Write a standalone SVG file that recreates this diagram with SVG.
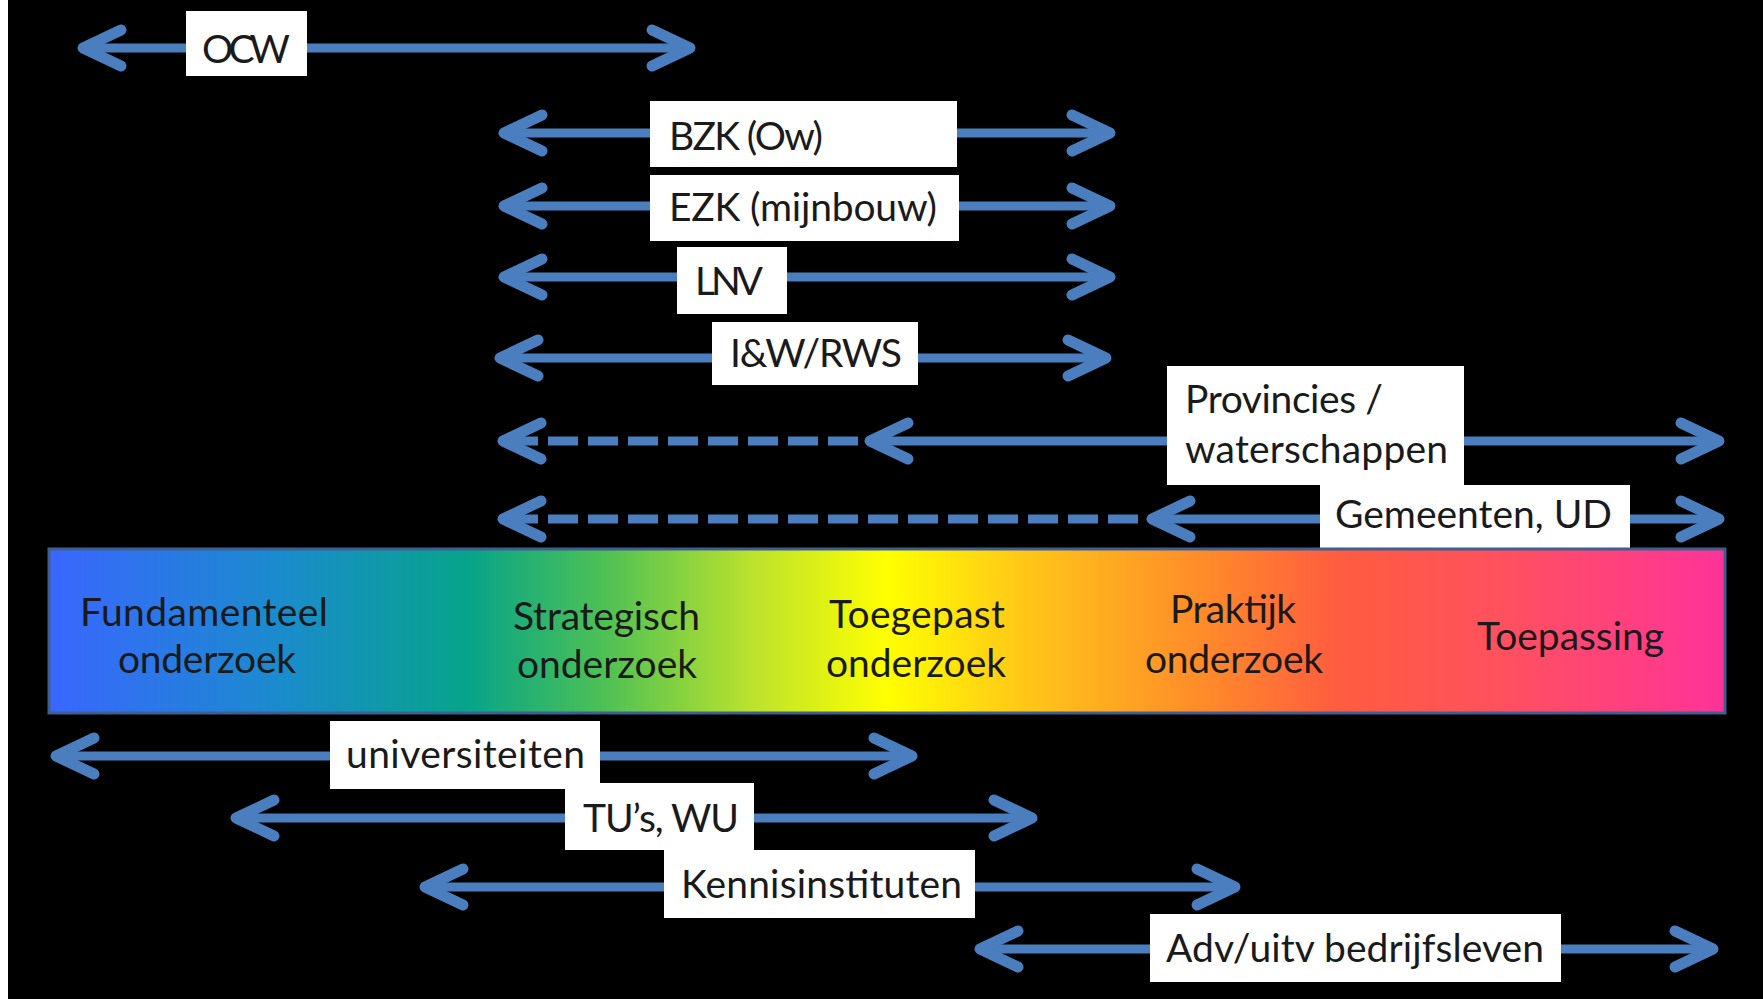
<svg xmlns="http://www.w3.org/2000/svg" width="1763" height="999" viewBox="0 0 1763 999">
<style>
.ln{stroke:#4a7ebe;stroke-width:9;fill:none}
.dash{stroke-dasharray:30 10;stroke-dashoffset:35}
.box{fill:#ffffff}
.t{font-family:Lato,"Liberation Sans",sans-serif;font-size:39px;fill:#1a1a1a}
</style>
<defs>
<marker id="ah" markerUnits="userSpaceOnUse" markerWidth="64" markerHeight="64" viewBox="-50 -32 64 64" refX="0" refY="0" orient="auto-start-reverse">
<path d="M -38 -18 L 0 0 L -38 18" fill="none" stroke="#4a7ebe" stroke-width="11" stroke-linejoin="round" stroke-linecap="round" stroke-dasharray="none"/>
</marker>
<linearGradient id="spec" x1="0" y1="0" x2="1" y2="0">
<stop offset="0" stop-color="#3a66ff"/>
<stop offset="0.14" stop-color="#1a8ccc"/>
<stop offset="0.25" stop-color="#07a48a"/>
<stop offset="0.33" stop-color="#4cc055"/>
<stop offset="0.42" stop-color="#bce22c"/>
<stop offset="0.50" stop-color="#ffff00"/>
<stop offset="0.58" stop-color="#ffc818"/>
<stop offset="0.69" stop-color="#ff8a2a"/>
<stop offset="0.77" stop-color="#ff5c40"/>
<stop offset="0.87" stop-color="#ff5060"/>
<stop offset="1" stop-color="#ff3399"/>
</linearGradient>
</defs>
<rect x="0" y="0" width="1763" height="999" fill="#ffffff"/>
<rect x="8" y="0" width="1755" height="999" fill="#000000"/>

<g id="connectors">
<path class="ln" d="M 83 48 L 690 48" marker-start="url(#ah)" marker-end="url(#ah)"/>
<path class="ln" d="M 504 133 L 1110 133" marker-start="url(#ah)" marker-end="url(#ah)"/>
<path class="ln" d="M 504 206 L 1110 206" marker-start="url(#ah)" marker-end="url(#ah)"/>
<path class="ln" d="M 504 277 L 1110 277" marker-start="url(#ah)" marker-end="url(#ah)"/>
<path class="ln" d="M 500 358 L 1106 358" marker-start="url(#ah)" marker-end="url(#ah)"/>
<path class="ln dash" d="M 503 441 L 858 441" marker-start="url(#ah)"/>
<path class="ln" d="M 870 441 L 1719 441" marker-start="url(#ah)" marker-end="url(#ah)"/>
<path class="ln dash" d="M 503 519 L 1140 519" marker-start="url(#ah)"/>
<path class="ln" d="M 1152 519 L 1719 519" marker-start="url(#ah)" marker-end="url(#ah)"/>
<path class="ln" d="M 56 756 L 912 756" marker-start="url(#ah)" marker-end="url(#ah)"/>
<path class="ln" d="M 236 818 L 1032 818" marker-start="url(#ah)" marker-end="url(#ah)"/>
<path class="ln" d="M 425 887 L 1235 887" marker-start="url(#ah)" marker-end="url(#ah)"/>
<path class="ln" d="M 980 949 L 1713 949" marker-start="url(#ah)" marker-end="url(#ah)"/>
</g>

<g id="ocw"><rect class="box" x="186" y="11" width="121" height="65"/><text class="t" x="202" y="63" textLength="88">OCW</text></g>
<g id="bzk"><rect class="box" x="650" y="101" width="307" height="66"/><text class="t" x="669" y="150" textLength="154">BZK (Ow)</text></g>
<g id="ezk"><rect class="box" x="650" y="175" width="309" height="66"/><text class="t" x="669" y="221" textLength="268">EZK (mijnbouw)</text></g>
<g id="lnv"><rect class="box" x="677" y="247" width="110" height="67"/><text class="t" x="695" y="295" textLength="68">LNV</text></g>
<g id="iw"><rect class="box" x="712" y="322" width="206" height="63"/><text class="t" x="730" y="367" textLength="172">I&amp;W/RWS</text></g>
<g id="prov"><rect class="box" x="1167" y="366" width="297" height="119"/><text class="t" x="1185" y="413" textLength="198">Provincies /</text><text class="t" x="1185" y="463" textLength="263">waterschappen</text></g>
<g id="gem"><rect class="box" x="1320" y="485" width="310" height="64"/><text class="t" x="1335" y="528" textLength="277">Gemeenten, UD</text></g>

<g id="spectrum">
<rect x="49" y="549" width="1676" height="164" fill="url(#spec)" stroke="#3f5f8f" stroke-width="3"/>
<text class="t" x="80" y="626" textLength="248">Fundamenteel</text>
<text class="t" x="118" y="673" textLength="178">onderzoek</text>
<text class="t" x="513" y="630" textLength="187">Strategisch</text>
<text class="t" x="517" y="678" textLength="180">onderzoek</text>
<text class="t" x="829" y="628" textLength="176">Toegepast</text>
<text class="t" x="826" y="677" textLength="180">onderzoek</text>
<text class="t" x="1170" y="623" textLength="126">Praktijk</text>
<text class="t" x="1145" y="673" textLength="178">onderzoek</text>
<text class="t" x="1477" y="650" textLength="187">Toepassing</text>
</g>

<g id="univ"><rect class="box" x="330" y="721" width="270" height="68"/><text class="t" x="346" y="768" textLength="239">universiteiten</text></g>
<g id="tu"><rect class="box" x="565" y="783" width="189" height="67"/><text class="t" x="583" y="832" textLength="156">TU’s, WU</text></g>
<g id="kennis"><rect class="box" x="664" y="850" width="311" height="68"/><text class="t" x="681" y="898" textLength="281">Kennisinstituten</text></g>
<g id="adv"><rect class="box" x="1150" y="914" width="411" height="68"/><text class="t" x="1166" y="962" textLength="378">Adv/uitv bedrijfsleven</text></g>
</svg>
